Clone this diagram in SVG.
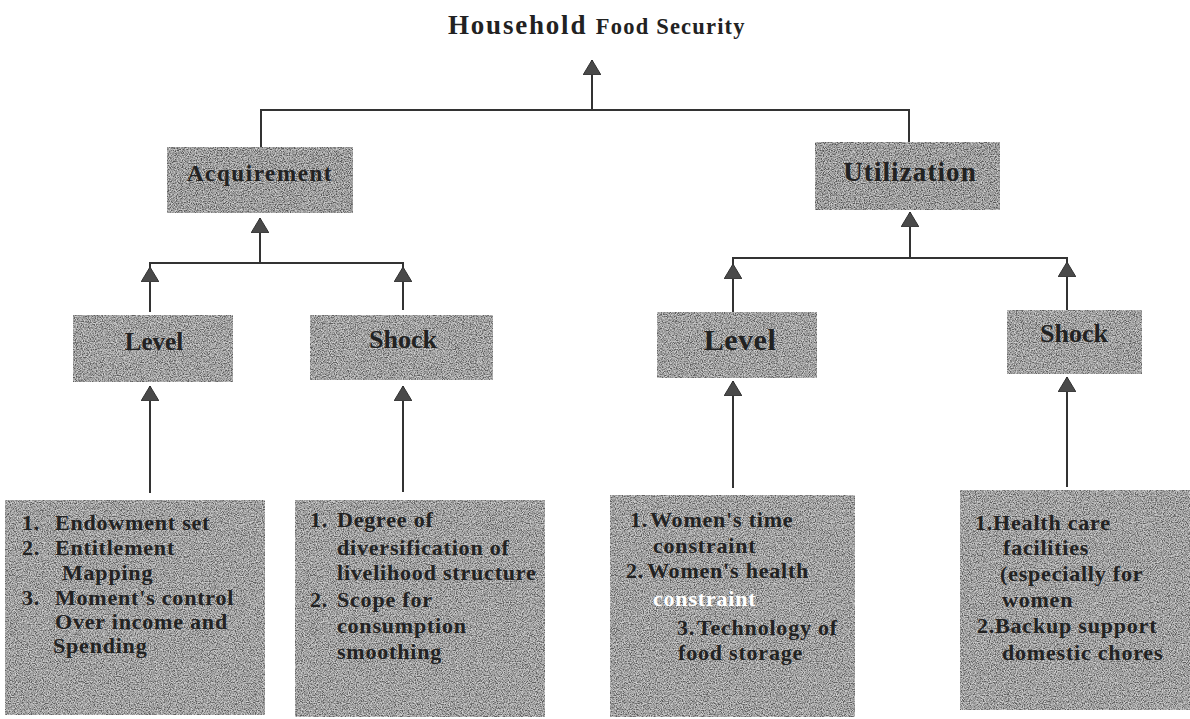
<svg xmlns="http://www.w3.org/2000/svg" width="1190" height="719" viewBox="0 0 1190 719">
<style>
.bg{fill:#ffffff}
.box{fill:#868686;filter:url(#grain)}
.boxd{fill:#7c7c7c;filter:url(#grain)}
.lbl{font-family:"Liberation Serif","Times New Roman",serif;font-weight:bold;fill:#222222}
.item{font-family:"Liberation Serif","Times New Roman",serif;font-weight:bold;font-size:22px;letter-spacing:0.8px;fill:#222222}
.wh{fill:#ffffff}
.con{stroke:#333333;stroke-width:2;fill:none}
.arr{stroke:#333333;stroke-width:2;fill:none;marker-end:url(#ah)}
</style>
<defs>
<filter id="grain" x="0" y="0" width="100%" height="100%">
<feTurbulence type="fractalNoise" baseFrequency="0.85" numOctaves="2" seed="7" result="n"/>
<feColorMatrix in="n" type="matrix" values="2.2 0 0 0 -0.65  2.2 0 0 0 -0.65  2.2 0 0 0 -0.65  0 0 0 0 0.55" result="dots"/>
<feComposite in="dots" in2="SourceAlpha" operator="in" result="dotsIn"/>
<feMerge><feMergeNode in="SourceGraphic"/><feMergeNode in="dotsIn"/></feMerge>
</filter>
<marker id="ah" viewBox="0 0 15 18" refX="15" refY="9" markerWidth="15" markerHeight="18" markerUnits="userSpaceOnUse" orient="auto">
<path d="M0,0 L15,9 L0,18 Z" fill="#4a4a4a" stroke="#333333" stroke-width="1"/>
</marker>
</defs>
<rect class="bg" x="0" y="0" width="1190" height="719"/>

<g id="title">
<text x="448" y="34" class="lbl" style="font-size:27px;letter-spacing:1.8px">Household <tspan style="font-size:22.5px;letter-spacing:1.2px">Food Security</tspan></text>
</g>

<g id="connectors">
<line class="arr" x1="592" y1="110" x2="592" y2="60"/>
<polyline class="con" points="261,147 261,110 909,110 909,142"/>
<line class="arr" x1="260" y1="263" x2="260" y2="218"/>
<polyline class="con" points="150,312 150,263 403,263 403,310"/>
<line class="arr" x1="150" y1="290" x2="150" y2="267"/>
<line class="arr" x1="403" y1="290" x2="403" y2="267"/>
<line class="arr" x1="910" y1="258" x2="910" y2="212"/>
<polyline class="con" points="733,312 733,258 1067,258 1067,310"/>
<line class="arr" x1="733" y1="290" x2="733" y2="264"/>
<line class="arr" x1="1067" y1="290" x2="1067" y2="262"/>
<line class="arr" x1="150" y1="493" x2="150" y2="386"/>
<line class="arr" x1="403" y1="492" x2="403" y2="386"/>
<line class="arr" x1="733" y1="488" x2="733" y2="381"/>
<line class="arr" x1="1067" y1="487" x2="1067" y2="377"/>
</g>

<g id="acquirement">
<rect class="boxd" x="167" y="147" width="186" height="66"/>
<text x="260" y="181" text-anchor="middle" class="lbl" style="font-size:23px;letter-spacing:1.6px">Acquirement</text>
</g>

<g id="utilization">
<rect class="boxd" x="815" y="142" width="185" height="68"/>
<text x="910" y="181" text-anchor="middle" class="lbl" style="font-size:27px;letter-spacing:1.1px">Utilization</text>
</g>

<g id="level-acq">
<rect class="box" x="73" y="315" width="160" height="67"/>
<text x="154" y="350" text-anchor="middle" class="lbl" style="font-size:25px">Level</text>
</g>

<g id="shock-acq">
<rect class="box" x="310" y="315" width="183" height="65"/>
<text x="403" y="348" text-anchor="middle" class="lbl" style="font-size:26px">Shock</text>
</g>

<g id="level-util">
<rect class="box" x="657" y="312" width="160" height="66"/>
<text x="740" y="350" text-anchor="middle" class="lbl" style="font-size:30px;letter-spacing:0.5px">Level</text>
</g>

<g id="shock-util">
<rect class="box" x="1007" y="310" width="135" height="64"/>
<text x="1074" y="342" text-anchor="middle" class="lbl" style="font-size:26px">Shock</text>
</g>

<g id="acq-level-items">
<rect class="box" x="5" y="500" width="260" height="215"/>
<text class="item"><tspan x="22" y="530">1.</tspan><tspan x="55" y="530">Endowment set</tspan></text>
<text class="item"><tspan x="22" y="555">2.</tspan><tspan x="55" y="555">Entitlement</tspan></text>
<text class="item" x="62" y="580">Mapping</text>
<text class="item"><tspan x="22" y="605">3.</tspan><tspan x="55" y="605">Moment's control</tspan></text>
<text class="item" x="55" y="629">Over income and</text>
<text class="item" x="53" y="653">Spending</text>
</g>

<g id="acq-shock-items">
<rect class="box" x="295" y="500" width="250" height="217"/>
<text class="item"><tspan x="310" y="527">1.</tspan><tspan x="337" y="527">Degree of</tspan></text>
<text class="item" x="337" y="555">diversification of</text>
<text class="item" x="337" y="580">livelihood structure</text>
<text class="item"><tspan x="310" y="607">2.</tspan><tspan x="337" y="607">Scope for</tspan></text>
<text class="item" x="337" y="633">consumption</text>
<text class="item" x="337" y="659">smoothing</text>
</g>

<g id="util-level-items">
<rect class="box" x="610" y="495" width="245" height="222"/>
<text class="item"><tspan x="630" y="527">1.</tspan><tspan x="650" y="527">Women's time</tspan></text>
<text class="item" x="653" y="553">constraint</text>
<text class="item"><tspan x="626" y="578">2.</tspan><tspan x="647" y="578">Women's health</tspan></text>
<text class="item wh" x="653" y="606">constraint</text>
<text class="item"><tspan x="677" y="635">3.</tspan><tspan x="697" y="635">Technology of</tspan></text>
<text class="item" x="678" y="660">food storage</text>
</g>

<g id="util-shock-items">
<rect class="box" x="960" y="490" width="230" height="220"/>
<text class="item" x="975" y="530">1.Health care</text>
<text class="item" x="1003" y="555">facilities</text>
<text class="item" x="1000" y="581">(especially for</text>
<text class="item" x="1002" y="607">women</text>
<text class="item" x="977" y="633">2.Backup support</text>
<text class="item" x="1002" y="660">domestic chores</text>
</g>
</svg>
